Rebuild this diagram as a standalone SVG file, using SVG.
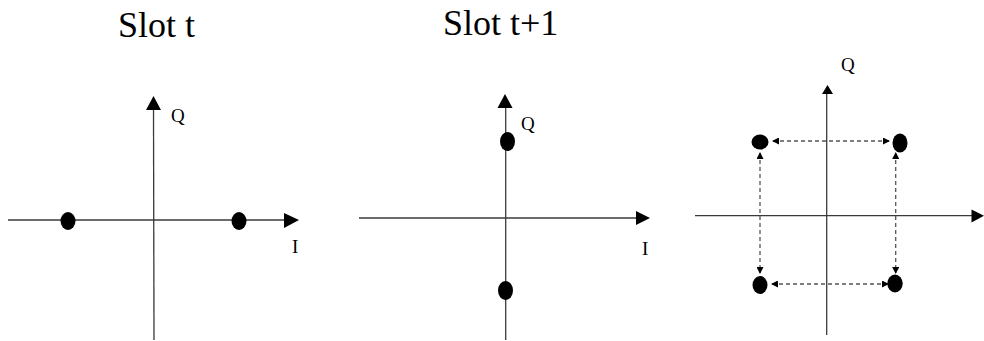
<svg xmlns="http://www.w3.org/2000/svg" width="984" height="341" viewBox="0 0 984 341">
<style>
.ax{stroke:#3a3a3a;stroke-width:1.3;fill:none}
.ds{stroke:#555;stroke-width:1.3;fill:none;stroke-dasharray:4 3}
.hd{fill:#000}
.dot{fill:#000}
.ttl{font-family:"Liberation Serif","Times New Roman","DejaVu Serif",serif;font-size:36px;fill:#000}
.lb{font-family:"Liberation Serif","Times New Roman","DejaVu Serif",serif;font-size:19px;fill:#000}
</style>
<defs>
<marker id="sa" markerWidth="7" markerHeight="7" refX="6" refY="3.5" orient="auto-start-reverse" markerUnits="userSpaceOnUse">
<path d="M0,0 L7,3.5 L0,7 Z" fill="#000"/>
</marker>
</defs>
<rect width="984" height="341" fill="#fff"/>

<g id="panel1">
<text class="ttl" x="118" y="37" font-family="Liberation Serif, serif">Slot t</text>
<line class="ax" x1="153.5" y1="108" x2="154" y2="340"/>
<path class="hd" d="M153.5,96 L161,110 L146,110 Z"/>
<line class="ax" x1="8" y1="220" x2="286" y2="220"/>
<path class="hd" d="M299,220 L284,213 L284,228 Z"/>
<text class="lb" x="171" y="122">Q</text>
<text class="lb" x="292" y="253">I</text>
<ellipse id="p1d1" class="dot" cx="68" cy="221" rx="7.5" ry="9"/>
<ellipse id="p1d2" class="dot" cx="239" cy="221" rx="7.5" ry="9"/>
</g>

<g id="panel2">
<text class="ttl" x="443" y="35" font-family="Liberation Serif, serif">Slot t+1</text>
<line class="ax" x1="505.7" y1="106" x2="505.7" y2="340"/>
<path class="hd" d="M505,94 L512.5,108 L497.5,108 Z"/>
<line class="ax" x1="359" y1="218" x2="638" y2="218"/>
<path class="hd" d="M650,218 L636,211 L636,225 Z"/>
<text class="lb" x="521" y="130">Q</text>
<text class="lb" x="642" y="255">I</text>
<ellipse id="p2d1" class="dot" cx="507.5" cy="141.5" rx="7.5" ry="9.5"/>
<ellipse id="p2d2" class="dot" cx="505.5" cy="290.5" rx="7.5" ry="9.5"/>
</g>

<g id="panel3">
<line class="ax" x1="826.7" y1="92" x2="826.7" y2="335"/>
<path class="hd" d="M827.5,85 L833,94 L822,94 Z"/>
<line class="ax" x1="695" y1="215.7" x2="973" y2="215.7"/>
<path class="hd" d="M984,215.7 L971.5,209.5 L971.5,222.5 Z"/>
<text class="lb" x="841" y="71">Q</text>
<ellipse id="p3d1" class="dot" cx="760" cy="142" rx="8.5" ry="7.5"/>
<ellipse id="p3d2" class="dot" cx="900" cy="143" rx="7.5" ry="9.5"/>
<ellipse id="p3d3" class="dot" cx="760" cy="285" rx="7.5" ry="9"/>
<ellipse id="p3d4" class="dot" cx="895" cy="283.5" rx="7.7" ry="9"/>
</g>

<g id="connectors">
<line class="ds" x1="773" y1="141" x2="889" y2="141" marker-start="url(#sa)" marker-end="url(#sa)"/>
<line class="ds" x1="772" y1="284" x2="888" y2="284" marker-start="url(#sa)" marker-end="url(#sa)"/>
<line class="ds" x1="760" y1="153" x2="760" y2="273" marker-start="url(#sa)" marker-end="url(#sa)"/>
<line class="ds" x1="895.7" y1="153" x2="895.7" y2="273" marker-start="url(#sa)" marker-end="url(#sa)"/>
</g>
</svg>
